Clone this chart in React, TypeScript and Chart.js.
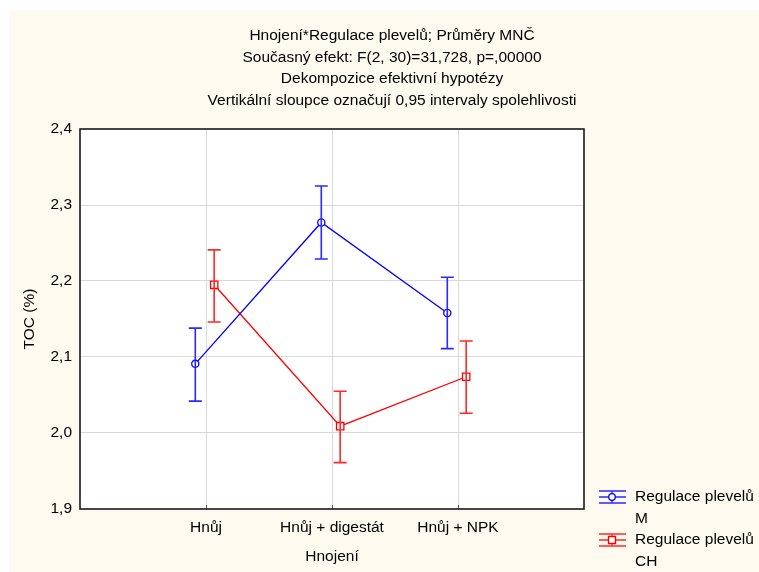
import React, { useEffect, useRef } from "react";
import { Chart, registerables } from "chart.js";

Chart.register(...registerables);

const categories = ["Hnůj", "Hnůj + digestát", "Hnůj + NPK"];
const titleLines = [
  "Hnojení*Regulace plevelů; Průměry MNČ",
  "Současný efekt: F(2, 30)=31,728, p=,00000",
  "Dekompozice efektivní hypotézy",
  "Vertikální sloupce označují 0,95 intervaly spolehlivosti",
];
const yTitle = "TOC (%)";
const xTitle = "Hnojení";
const yTicks = [1.9, 2.0, 2.1, 2.2, 2.3, 2.4];

const seriesNames = ["Regulace plevelů M", "Regulace plevelů CH"];
const legendLinesM = ["Regulace plevelů", "M"];
const legendLinesCH = ["Regulace plevelů", "CH"];

const meansM = [2.091, 2.277, 2.158];
const lowerM = [2.042, 2.229, 2.111];
const upperM = [2.138, 2.325, 2.205];

const meansCH = [2.195, 2.009, 2.074];
const lowerCH = [2.146, 1.961, 2.026];
const upperCH = [2.241, 2.055, 2.121];

const FONT = "'Liberation Sans', Arial, sans-serif";
const FS = 15.5;
const BLUE = "#0000ff";
const RED = "#ff0000";
const BLUE_EB = "#2a2aff";
const RED_EB = "#ff2a2a";
const OFF_M = -0.085;
const OFF_CH = 0.065;

export default function App() {
  const ref = useRef<HTMLCanvasElement | null>(null);

  useEffect(() => {
    const canvas = ref.current;
    if (!canvas) return;

    const bars = [
      { lo: lowerM, hi: upperM, off: OFF_M, color: BLUE_EB },
      { lo: lowerCH, hi: upperCH, off: OFF_CH, color: RED_EB },
    ];

    const plugin = {
      id: "custom",
      beforeDraw(chart: any) {
        const { ctx, chartArea: a } = chart;
        ctx.save();
        ctx.fillStyle = "#fffaf0";
        ctx.fillRect(0, 0, chart.width, chart.height);
        ctx.fillStyle = "#ffffff";
        ctx.fillRect(a.left, a.top, a.right - a.left, a.bottom - a.top);
        ctx.restore();
      },
      afterDatasetsDraw(chart: any) {
        const { ctx } = chart;
        const xs = chart.scales.x;
        const ys = chart.scales.y;
        ctx.save();
        ctx.lineWidth = 1.6;
        bars.forEach((b) => {
          ctx.strokeStyle = b.color;
          b.lo.forEach((lo: number, i: number) => {
            const px = xs.getPixelForValue(i + 1 + b.off);
            const y1 = ys.getPixelForValue(lo);
            const y2 = ys.getPixelForValue(b.hi[i]);
            ctx.beginPath();
            ctx.moveTo(px, y1);
            ctx.lineTo(px, y2);
            ctx.moveTo(px - 6.5, y1);
            ctx.lineTo(px + 6.5, y1);
            ctx.moveTo(px - 6.5, y2);
            ctx.lineTo(px + 6.5, y2);
            ctx.stroke();
          });
        });
        ctx.restore();
      },
      afterDraw(chart: any) {
        const { ctx, chartArea: a } = chart;
        const xs = chart.scales.x;
        ctx.save();
        ctx.strokeStyle = "#555";
        ctx.lineWidth = 1;
        [1, 2, 3].forEach((v) => {
          const px = Math.round(xs.getPixelForValue(v)) + 0.5;
          ctx.beginPath();
          ctx.moveTo(px, a.bottom);
          ctx.lineTo(px, a.bottom - 4);
          ctx.stroke();
        });
        ctx.strokeStyle = "#1a1a1a";
        ctx.lineWidth = 1.6;
        ctx.strokeRect(a.left, a.top, a.right - a.left, a.bottom - a.top);

        const items = [
          { lines: legendLinesM, color: BLUE, eb: BLUE_EB, style: "circle", cy: 487 },
          { lines: legendLinesCH, color: RED, eb: RED_EB, style: "rect", cy: 530 },
        ];
        const sx = 603;
        items.forEach((it) => {
          ctx.strokeStyle = it.eb;
          ctx.lineWidth = 1.4;
          ctx.beginPath();
          ctx.moveTo(590, it.cy - 6);
          ctx.lineTo(617, it.cy - 6);
          ctx.moveTo(590, it.cy);
          ctx.lineTo(617, it.cy);
          ctx.moveTo(590, it.cy + 6);
          ctx.lineTo(617, it.cy + 6);
          ctx.moveTo(sx, it.cy - 6);
          ctx.lineTo(sx, it.cy + 6);
          ctx.stroke();
          ctx.strokeStyle = it.color;
          ctx.fillStyle = "#ffffff";
          ctx.lineWidth = 1.3;
          ctx.beginPath();
          if (it.style === "circle") {
            ctx.arc(sx, it.cy, 3.3, 0, Math.PI * 2);
          } else {
            ctx.rect(sx - 3.5, it.cy - 3.5, 7, 7);
          }
          ctx.fill();
          ctx.stroke();
          ctx.fillStyle = "#000";
          ctx.font = `${FS}px ${FONT}`;
          ctx.textBaseline = "middle";
          ctx.textAlign = "left";
          it.lines.forEach((t: string, k: number) => {
            ctx.fillText(t, 626, it.cy + k * 21.5);
          });
        });
        ctx.restore();
      },
    };

    const chart = new Chart(canvas, {
      type: "line",
      data: {
        datasets: [
          {
            label: seriesNames[0],
            data: meansM.map((v, i) => ({ x: i + 1 + OFF_M, y: v })),
            borderColor: BLUE,
            backgroundColor: "#ffffff",
            borderWidth: 1.3,
            pointStyle: "circle",
            pointRadius: 3.6,
            pointBorderWidth: 1.3,
            pointBorderColor: BLUE,
            pointBackgroundColor: "#ffffff",
            tension: 0,
          },
          {
            label: seriesNames[1],
            data: meansCH.map((v, i) => ({ x: i + 1 + OFF_CH, y: v })),
            borderColor: RED,
            backgroundColor: "#ffffff",
            borderWidth: 1.3,
            pointStyle: "rect",
            pointRadius: 5.2,
            pointBorderWidth: 1.3,
            pointBorderColor: RED,
            pointBackgroundColor: "#ffffff",
            tension: 0,
          },
        ],
      },
      options: {
        animation: false,
        responsive: false,
        devicePixelRatio: 1,
        layout: { padding: 0 },
        plugins: {
          legend: { display: false },
          tooltip: { enabled: false },
          title: {
            display: true,
            text: titleLines,
            color: "#000",
            font: { family: FONT, size: FS, weight: "normal", lineHeight: 21.5 / FS },
            padding: { top: 15, bottom: 18 },
          },
        },
        scales: {
          x: {
            type: "linear",
            position: "bottom",
            min: 0,
            max: 4,
            afterFit: (s: any) => {
              s.height = 63;
            },
            afterBuildTicks: (s: any) => {
              s.ticks = [0, 1, 2, 3, 4].map((v) => ({ value: v }));
            },
            ticks: {
              autoSkip: false,
              maxRotation: 0,
              padding: 9,
              color: "#000",
              font: { family: FONT, size: FS },
              callback: (v: any) => {
                const n = Number(v);
                return n >= 1 && n <= 3 ? categories[n - 1] : "";
              },
            },
            grid: {
              drawTicks: false,
              lineWidth: 1,
              color: (c: any) =>
                c.tick && c.tick.value >= 1 && c.tick.value <= 3 ? "#d9d9d9" : "rgba(0,0,0,0)",
            },
            border: { display: false },
            title: {
              display: true,
              text: xTitle,
              color: "#000",
              font: { family: FONT, size: FS },
              padding: { top: 0, bottom: 6 },
            },
          },
          y: {
            type: "linear",
            position: "left",
            min: 1.9,
            max: 2.4,
            afterFit: (s: any) => {
              s.width = 71;
            },
            afterBuildTicks: (s: any) => {
              s.ticks = yTicks.map((v) => ({ value: v }));
            },
            ticks: {
              padding: 8,
              color: "#000",
              font: { family: FONT, size: FS },
              callback: (v: any) => Number(v).toFixed(1).replace(".", ","),
            },
            grid: {
              drawTicks: false,
              lineWidth: 1,
              color: (c: any) =>
                c.tick && c.tick.value > 1.95 && c.tick.value < 2.35 ? "#d9d9d9" : "rgba(0,0,0,0)",
            },
            border: { display: false },
            title: {
              display: true,
              text: yTitle,
              color: "#000",
              font: { family: FONT, size: FS },
              padding: { top: 11, bottom: 0 },
            },
          },
          legendSpace: {
            type: "linear",
            axis: "y",
            position: "right",
            display: true,
            afterFit: (s: any) => {
              s.width = 191;
            },
            ticks: { display: false },
            grid: { display: false, drawTicks: false },
            border: { display: false },
          },
        },
      },
      plugins: [plugin],
    } as any);

    return () => chart.destroy();
  }, []);

  return (
    <div
      style={{
        position: "absolute",
        left: 9,
        top: 10,
        width: 750,
        height: 562,
        overflow: "hidden",
        background: "#fffaf0",
      }}
    >
      <canvas ref={ref} width={766} height={562} style={{ display: "block" }} />
    </div>
  );
}
